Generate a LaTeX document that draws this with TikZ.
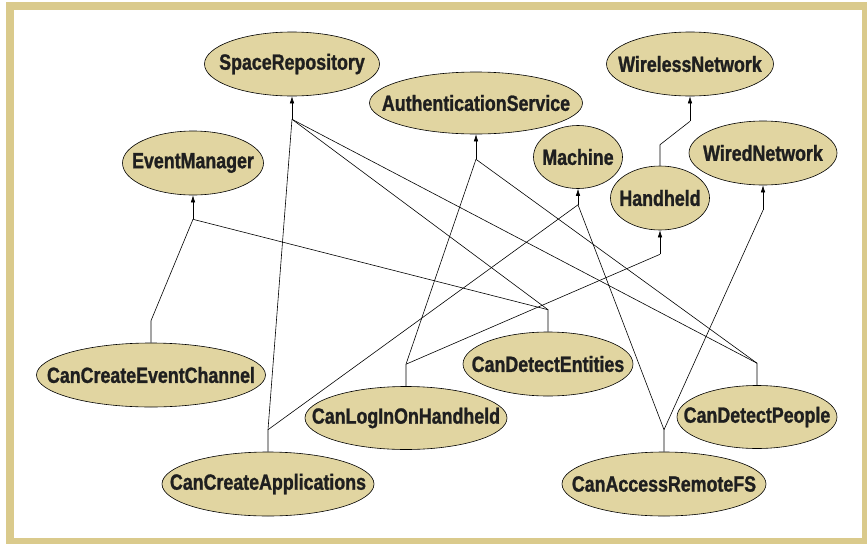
\documentclass[tikz,border=0pt]{standalone}
\usepackage{fontspec}
\setmainfont{Liberation Sans}[FakeStretch=0.81, BoldFeatures={FakeBold=1.2}]
\usepackage{tikz}
\usetikzlibrary{shapes,arrows,arrows.meta,positioning}
\definecolor{clsfill}{HTML}{E1D5A1}
\definecolor{framecol}{HTML}{DACA8C}
\tikzstyle{cls} = [ellipse, draw, fill=clsfill, inner sep=0pt, minimum height=64pt,
    font=\bfseries\fontsize{22}{22}\selectfont, text=black!88]
\tikzstyle{line} = [draw, -{Latex[length=7pt,width=4.5pt]}]
\newcommand{\lbl}[1]{\makebox[0pt]{#1}}

\begin{document}
\begin{tikzpicture}[x=1pt, y=-1pt, line width=0.6pt]
    \useasboundingbox (0,0) rectangle (867,544);
    % Frame
    \fill[framecol] (6,2) rectangle (867,544);
    \fill[white] (14,10) rectangle (862,538);

    % Place nodes
    \node [cls, minimum width=175pt] (sr) at (292,64) {\lbl{SpaceRepository}};
    \node [cls, minimum width=141pt] (em) at (193,163) {\lbl{EventManager}};
    \node [cls, minimum width=213pt, minimum height=62pt] (as) at (476,103) {\lbl{AuthenticationService}};
    \node [cls, minimum width=167pt] (wl) at (690,64) {\lbl{WirelessNetwork}};
    \node [cls, minimum width=89pt, minimum height=63pt] (ma) at (578,157) {\lbl{Machine}};
    \node [cls, minimum width=99pt] (hh) at (660,198) {\lbl{Handheld}};
    \node [cls, minimum width=148pt] (wd) at (763,153) {\lbl{WiredNetwork}};
    \node [cls, minimum width=229pt] (cec) at (151,375) {\lbl{CanCreateEventChannel}};
    \node [cls, minimum width=212pt] (cca) at (268,484) {\lbl{CanCreateApplications}};
    \node [cls, minimum width=202pt, minimum height=63pt] (clh) at (406,418) {\lbl{CanLogInOnHandheld}};
    \node [cls, minimum width=170pt] (cde) at (548,364) {\lbl{CanDetectEntities}};
    \node [cls, minimum width=160pt, minimum height=63pt] (cdp) at (757,417) {\lbl{CanDetectPeople}};
    \node [cls, minimum width=204pt] (carf) at (664,484) {\lbl{CanAccessRemoteFS}};

    % Junctions
    \coordinate (sr-j) at ([yshift=-23pt]sr.south);
    \coordinate (em-j) at ([yshift=-24pt]em.south);
    \coordinate (as-j) at ([yshift=-25pt]as.south);
    \coordinate (ma-j) at ([yshift=-16pt]ma.south);
    \coordinate (hh-j) at ([yshift=-24pt]hh.south);
    \coordinate (wd-j) at ([yshift=-25pt]wd.south);
    \coordinate (wl-j) at ([yshift=-25pt]wl.south);
    \foreach \n in {cec,cca,clh,cde,cdp,carf}
        \coordinate (\n-j) at ([yshift=22pt]\n.north);
    \coordinate (hh-up) at ([yshift=21pt]hh.north);

    % Draw edges
    \draw (cec.north) -- (cec-j) -- (em-j);
    \draw (cde.north) -- (cde-j) -- (em-j);
    \draw (cde-j) -- (sr-j);
    \draw (cca.north) -- (cca-j) -- (sr-j);
    \draw (cca-j) -- (ma-j);
    \draw (clh.north) -- (clh-j) -- (as-j);
    \draw (clh-j) -- (hh-j);
    \draw (cdp.north) -- (cdp-j) -- (sr-j);
    \draw (cdp-j) -- (as-j);
    \draw (carf.north) -- (carf-j) -- (ma-j);
    \draw (carf-j) -- (wd-j);
    \draw (hh.north) -- (hh-up) -- (wl-j);
    \foreach \n in {sr,em,as,ma,hh,wd,wl}
        \path [line] (\n-j) -- (\n);
\end{tikzpicture}
\end{document}
